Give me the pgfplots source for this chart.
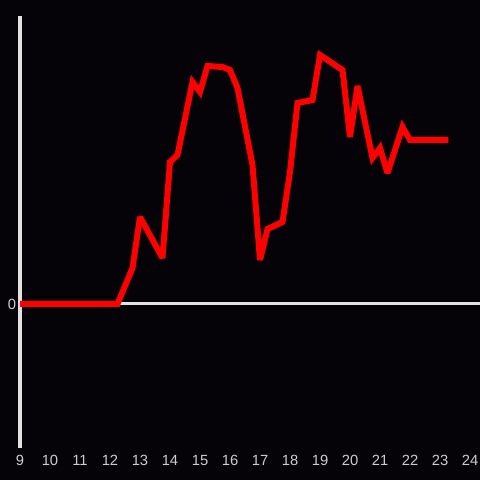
\documentclass[border=0pt]{standalone}
\usepackage{pgfplots}
\pgfplotsset{compat=1.18}
\usepackage{fontspec}
\setmainfont{Liberation Sans}
\definecolor{bg}{RGB}{5,3,8}
\definecolor{axc}{RGB}{225,225,225}
\definecolor{lbl}{RGB}{205,205,205}
\begin{document}
\begin{tikzpicture}
\useasboundingbox (0,0) rectangle (480bp,480bp);
\fill[bg] (0,0) rectangle (480bp,480bp);
\begin{axis}[
  at={(20bp,32bp)}, anchor=south west,
  scale only axis, width=460bp, height=432bp,
  xmin=9, xmax=24.3333, ymin=-144, ymax=288,
  clip=false,
  axis x line*=bottom, axis y line*=left,
  x axis line style={draw=none},
  y axis line style={draw=axc, line width=3bp, -},
  xtick={9,10,...,24}, ytick={0},
  major tick length=0pt,
  tick style={draw=none},
  /pgf/number format/assume math mode=true,
  tick label style={font=\fontsize{14.8}{17}\selectfont, text=lbl},
  xticklabel style={anchor=center, yshift=-12.5bp},
  yticklabel style={anchor=center, xshift=-8bp},
]
\addplot[axc, line width=3bp, no marks] coordinates {(9,0) (24.3333,0)};
\addplot[red, line width=6bp, no marks, line cap=square, line join=miter, miter limit=3] coordinates {
(9,0) (12.25,0) (12.75,36) (13.0,87) (13.75,46) (14.0,142) (14.25,149)
(14.75,222) (15.0,212) (15.25,238) (15.75,237) (16.0,234) (16.25,216)
(16.75,139) (17.0,44) (17.25,75) (17.75,82) (18.0,132) (18.25,201)
(18.75,204) (19.0,249) (19.75,234) (20.0,167) (20.25,218) (20.75,146)
(21.0,156) (21.25,131) (21.75,177) (22.0,164) (23.28,164)
};
\end{axis}
\end{tikzpicture}
\end{document}
